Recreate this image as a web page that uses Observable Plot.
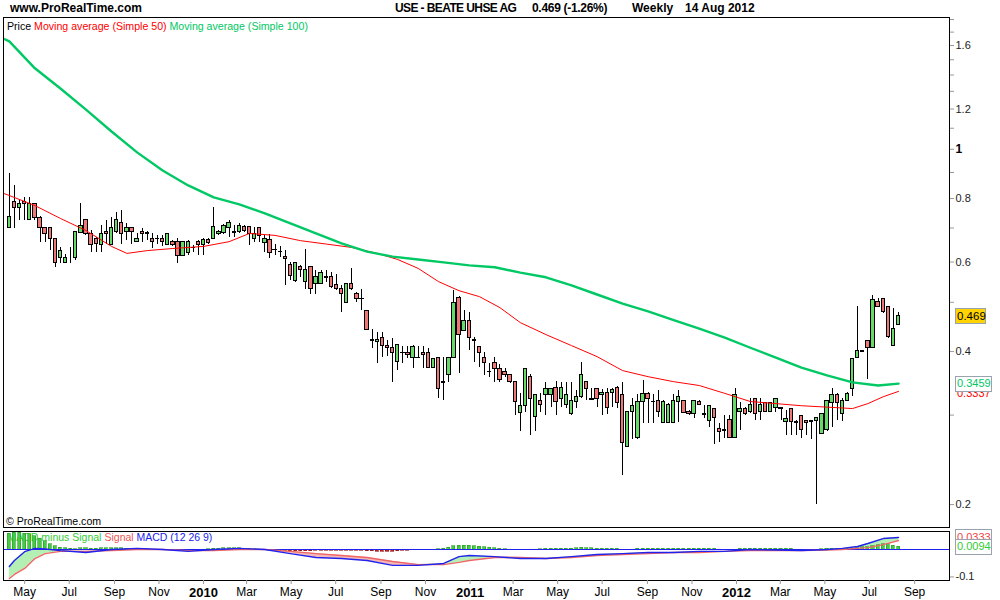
<!DOCTYPE html>
<html><head><meta charset="utf-8">
<script src="https://cdn.jsdelivr.net/npm/d3@7"></script>
<script src="https://cdn.jsdelivr.net/npm/@observablehq/plot@0.6"></script>
<style>
body{margin:0;background:#fff;font-family:Arial,"Liberation Sans",sans-serif;}
#wrap{position:relative;width:1000px;height:600px;overflow:hidden;background:#fff;}
#wrap svg{position:absolute;left:0;}
.h{position:absolute;white-space:pre;font-size:12px;font-weight:bold;line-height:14px;top:1px;color:#000;z-index:2}
.lg{position:absolute;white-space:pre;font-size:10.6px;line-height:13px;z-index:2}
</style></head><body><div id="wrap">
<div class="h" style="left:10px">www.ProRealTime.com</div>
<div class="h" style="left:395px;letter-spacing:-0.6px">USE - BEATE UHSE AG</div>
<div class="h" style="left:532px;letter-spacing:-0.3px">0.469 (-1.26%)</div>
<div class="h" style="left:632px">Weekly</div>
<div class="h" style="left:685px">14 Aug 2012</div>
<div class="lg" style="left:7px;top:20px"><span style="color:#000">Price </span><span style="color:#ff0000">Moving average (Simple 50) </span><span style="color:#00c864">Moving average (Simple 100)</span></div>
<div class="lg" style="left:6px;top:515px;color:#000">© ProRealTime.com</div>
</div>
<script>
// ---- data ----
const firstWeek = "2009-04-10";
const open = [
.699,.786,.768,.786,.727,.779,.734,.699,.699,.667,
.610,.598,.605,.610,.683,.727,.680,.667,.648,.689,
.648,.689,.717,.686,.699,.658,.689,.683,.667,.667,
.667,.648,.658,.658,.618,.624,.639,.658,.648,.664,
.667,.680,.683,.699,.686,.689,.702,.702,.667,.699,
.655,.664,.635,.629,.613,.591,.550,.588,.547,.588,
.544,.544,.560,.560,.540,.530,.499,.544,.519,.508,
.480,.421,.417,.425,.410,.406,.381,.398,.398,.389,
.389,.398,.398,.372,.389,.348,.360,.389,.511,.440,
.459,.421,.408,.389,.365,.379,.369,.364,.360,.349,
.303,.312,.356,.297,.320,.329,.329,.339,.323,.314,
.301,.319,.326,.348,.322,.337,.329,.332,.332,.339,
.329,.260,.304,.270,.319,.330,.319,.320,.290,.290,
.290,.319,.320,.304,.301,.319,.301,.292,.309,.282,
.280,.293,.271,.304,.309,.304,.323,.304,.317,.304,
.310,.310,.291,.309,.291,.299,.292,.292,.292,.275,
.280,.317,.329,.301,.320,.338,.389,.401,.419,.406,
.500,.508,.489,.411,.451];
const high = [
.896,.849,.793,.804,.804,.782,.737,.699,.702,.667,
.642,.620,.640,.689,.782,.727,.692,.670,.708,.724,
.734,.751,.758,.714,.699,.683,.699,.689,.683,.677,
.677,.680,.661,.667,.658,.661,.648,.661,.667,.667,
.768,.692,.711,.724,.708,.714,.708,.702,.702,.699,
.677,.680,.651,.645,.632,.598,.598,.591,.635,.588,
.578,.578,.578,.572,.567,.540,.544,.583,.522,.530,
.480,.442,.436,.436,.421,.425,.413,.410,.410,.411,
.410,.410,.406,.387,.389,.389,.389,.527,.513,.482,
.478,.427,.408,.398,.379,.389,.377,.370,.360,.349,
.331,.370,.360,.329,.331,.348,.339,.349,.348,.348,
.348,.335,.381,.349,.339,.339,.337,.339,.339,.341,
.348,.304,.324,.329,.351,.332,.330,.336,.320,.316,
.330,.335,.321,.306,.320,.320,.314,.314,.309,.289,
.299,.299,.339,.317,.310,.323,.323,.323,.318,.318,
.324,.311,.306,.309,.293,.300,.293,.293,.297,.302,
.320,.339,.331,.323,.332,.387,.491,.402,.421,.516,
.508,.508,.489,.487,.478];
const low = [
.697,.699,.724,.724,.724,.724,.655,.655,.632,.586,
.596,.596,.596,.604,.683,.677,.626,.626,.626,.651,
.648,.683,.651,.661,.651,.655,.655,.661,.638,.651,
.645,.648,.645,.596,.615,.618,.626,.618,.618,.651,
.667,.677,.680,.670,.670,.683,.686,.648,.655,.655,
.626,.610,.618,.613,.540,.552,.547,.560,.530,.519,
.519,.541,.547,.533,.527,.477,.497,.527,.499,.482,
.442,.406,.379,.389,.391,.348,.367,.379,.387,.370,
.387,.370,.370,.370,.323,.320,.348,.389,.362,.438,
.402,.381,.372,.359,.356,.348,.348,.356,.346,.300,
.279,.303,.274,.279,.303,.300,.310,.300,.310,.309,
.300,.309,.324,.320,.320,.310,.300,.301,.310,.309,
.228,.259,.268,.269,.289,.289,.289,.297,.289,.289,
.289,.290,.302,.300,.296,.313,.296,.284,.262,.265,
.270,.270,.270,.280,.300,.302,.293,.293,.303,.303,
.303,.293,.274,.274,.274,.270,.274,.268,.200,.275,
.279,.283,.293,.291,.319,.327,.388,.399,.352,.405,
.488,.476,.425,.409,.450];
const close = [
.737,.768,.779,.779,.779,.734,.699,.680,.667,.598,
.631,.610,.605,.689,.708,.680,.648,.651,.680,.680,
.699,.727,.680,.699,.689,.667,.680,.682,.658,.666,
.658,.680,.648,.618,.658,.658,.638,.648,.664,.655,
.702,.689,.708,.717,.685,.705,.692,.680,.680,.674,
.667,.626,.634,.628,.607,.562,.598,.580,.578,.530,
.560,.572,.559,.535,.530,.519,.544,.530,.508,.507,
.442,.420,.421,.410,.406,.398,.413,.397,.394,.408,
.388,.394,.372,.387,.338,.347,.389,.499,.431,.459,
.425,.420,.398,.379,.364,.370,.351,.360,.348,.319,
.312,.369,.323,.329,.314,.337,.337,.319,.339,.329,
.320,.326,.360,.338,.321,.323,.332,.310,.336,.317,
.264,.304,.312,.319,.330,.323,.318,.304,.319,.314,
.320,.326,.303,.301,.320,.314,.300,.312,.296,.278,
.279,.271,.329,.309,.301,.314,.302,.314,.304,.317,
.323,.309,.295,.291,.290,.280,.289,.291,.296,.301,
.320,.329,.317,.320,.330,.386,.401,.400,.406,.506,
.489,.478,.427,.444,.469];

const ma100Week = [-1,0,5,10,15,20,25,30,35,40,45,50,55,60,65,70,75,80,85,90,95,100,105,110,115,120,125,130,135,140,145,150,155,160,165,170,174];
const ma100Val = [1.648,1.63,1.443,1.317,1.197,1.084,0.986,0.908,0.849,0.804,0.779,0.748,0.715,0.683,0.653,0.629,0.615,0.607,0.599,0.591,0.586,0.572,0.560,0.540,0.518,0.497,0.480,0.461,0.444,0.426,0.407,0.389,0.372,0.359,0.348,0.343,0.346];
const ma50Week = [-1,0,5,10,15,20,23,27,32,38,43,47,52,57,62,67,72,76,80,84,88,92,96,100,105,110,115,120,125,130,135,140,145,150,155,160,165,168,171,174];
const ma50Val = [0.818,0.811,0.775,0.731,0.692,0.644,0.624,0.632,0.638,0.644,0.658,0.683,0.677,0.661,0.651,0.641,0.624,0.607,0.583,0.549,0.527,0.513,0.488,0.456,0.432,0.411,0.391,0.367,0.357,0.349,0.343,0.331,0.319,0.316,0.313,0.311,0.309,0.316,0.326,0.334];

const macdWeek = [0,1,3,5,7,10,15,20,25,30,35,40,45,50,55,60,65,70,75,80,85,88,90,95,100,105,110,115,120,125,130,135,140,145,150,155,160,163,166,168,171,174];
const macdVal = [-0.062,-0.040,-0.008,0.004,0.002,-0.004,-0.011,0,0.004,0,-0.007,0,0.004,0,-0.015,-0.029,-0.033,-0.040,-0.058,-0.058,-0.051,-0.026,-0.022,-0.026,-0.033,-0.033,-0.026,-0.018,-0.015,-0.011,-0.011,-0.007,-0.007,0,-0.002,-0.004,0,0.004,0.011,0.022,0.040,0.044];
const signalVal = [-0.106,-0.091,-0.069,-0.033,-0.015,-0.007,-0.007,-0.004,0,0,-0.004,-0.004,0,0,-0.007,-0.015,-0.022,-0.029,-0.044,-0.055,-0.055,-0.047,-0.040,-0.029,-0.029,-0.033,-0.029,-0.022,-0.018,-0.015,-0.011,-0.011,-0.007,-0.004,-0.004,-0.004,-0.002,0,0.004,0.007,0.018,0.033];
const histVal = [
0.058,0.062,0.062,0.058,0.055,0.048,0.040,0.030,0.020,0.012,0.007,0.004,0.002,0.001,
0.004,0.004,0.003,0.003,0.004,0.004,0.005,0.005,0.004,0.003,0.002,0.001,0.001,0.001,
0,0,0,-0.001,
-0.002,-0.003,-0.003,-0.002,-0.003,-0.002,-0.001,
0.001,
0.003,0.003,0.004,0.004,0.004,0.004,0.003,0.002,0.001,
0,0,0,-0.001,
-0.002,-0.004,-0.006,-0.007,-0.007,-0.006,-0.006,-0.005,-0.005,-0.004,-0.004,-0.004,-0.004,-0.004,-0.004,-0.004,-0.005,-0.006,-0.007,-0.008,-0.008,-0.008,-0.008,-0.006,-0.005,-0.004,-0.002,
0,0,-0.001,0,0.001,0.002,
0.006,0.011,0.013,0.014,0.013,0.012,0.010,0.008,0.006,0.005,0.003,0.001,
0,-0.002,-0.002,-0.001,0,0,0.001,
0.002,0.003,0.003,0.003,0.003,0.003,0.004,0.006,0.005,0.004,0.003,0.003,0.003,0.003,0.002,
0,-0.001,0,
0.002,0.003,0.003,0.003,0.003,0.003,0.003,0.003,0.003,0.003,0.003,0.003,0.003,0.003,0.003,0.002,
-0.001,-0.001,-0.002,-0.001,
0.002,0.003,0.003,0.003,0.003,0.003,0.003,0.003,0.003,0.002,0.002,
-0.001,-0.001,-0.001,0,-0.001,
0.001,0.002,0.003,0.003,0.003,0.002,0.003,
0.005,0.008,0.008,0.012,0.016,0.020,0.020,0.014,0.0094];

const priceTicks = [0.2,0.4,0.6,0.8,1.2,1.6];
const priceTickBold = [1];
const priceMinor = [0.3,0.5,0.7,0.9,1.1,1.3,1.4,1.5,1.7,1.8];
const monthTicks = ["2009-05-01","2009-07-01","2009-09-01","2009-11-01","2010-03-01","2010-05-01","2010-07-01","2010-09-01","2010-11-01","2011-03-01","2011-05-01","2011-07-01","2011-09-01","2011-11-01","2012-03-01","2012-05-01","2012-07-01","2012-09-01"];
const yearTicks = ["2010-01-01","2011-01-01","2012-01-01"];
const lastPrice = 0.469, lastMA100 = 0.3459, lastMA50 = 0.3337;
const lastHist = 0.0094, lastSignal = 0.0333;

// ---- build ----
const parse = d3.utcParse("%Y-%m-%d");
const D0 = parse(firstWeek);
const wk = i => d3.utcDay.offset(D0, 7 * i);
const candles = open.map((o, i) => ({date: wk(i), open: o, high: high[i], low: low[i], close: close[i]}));
const ma100 = ma100Week.map((w, i) => ({date: wk(w), v: ma100Val[i]}));
const ma50 = ma50Week.map((w, i) => ({date: wk(w), v: ma50Val[i]}));
const macdRows = macdWeek.map((w, i) => ({date: wk(w), macd: macdVal[i], signal: signalVal[i]}));
const hist = histVal.map((v, i) => ({date: wk(i), v}));
const xDomain = [new Date("2009-04-02T00:00Z"), new Date("2012-10-18T19:00Z")];
const FONT = "Arial, 'Liberation Sans', sans-serif";
const GREEN = "#66d966", RED = "#ee7777";
const bx1 = d => d3.utcHour.offset(d.date, -55), bx2 = d => d3.utcHour.offset(d.date, 55);
const hx1 = d => d3.utcHour.offset(d.date, -50), hx2 = d => d3.utcHour.offset(d.date, 50);

const mainPlot = Plot.plot({
  width: 1000, height: 528, marginTop: 17, marginBottom: 1, marginLeft: 3, marginRight: 51,
  style: {background: "transparent", fontFamily: FONT, fontSize: "11px", color: "#222"},
  x: {type: "utc", domain: xDomain, axis: null, label: null},
  y: {type: "log", domain: [0.1803, 1.8164], axis: null, label: null},
  marks: [
    Plot.axisY(priceMinor, {anchor: "right", tickSize: 4, stroke: "#999", tickFormat: () => ""}),
    Plot.axisY(priceTicks, {anchor: "right", tickSize: 4, tickPadding: 2, stroke: "#999", fill: "#222", fontSize: 11, tickFormat: d => String(d)}),
    Plot.axisY(priceTickBold, {anchor: "right", tickSize: 4, tickPadding: 2, stroke: "#999", fill: "#000", fontSize: 12, fontWeight: "bold", tickFormat: d => String(d)}),
    Plot.ruleX(candles, {x: "date", y1: "low", y2: "high", stroke: "#000", shapeRendering: "crispEdges"}),
    Plot.rect(candles, {x1: bx1, x2: bx2, y1: "open", y2: "close", fill: d => d.close >= d.open ? GREEN : RED, stroke: "#000", strokeWidth: 1, shapeRendering: "crispEdges"}),
    Plot.line(ma50, {x: "date", y: "v", stroke: "#ff0000", strokeWidth: 1}),
    Plot.line(ma100, {x: "date", y: "v", stroke: "#00c864", strokeWidth: 2.4}),
    Plot.frame({stroke: "#000", shapeRendering: "crispEdges"})
  ]
});
mainPlot.style.top = "0px";

const macdPlot = Plot.plot({
  width: 1000, height: 72, marginTop: 3, marginBottom: 20, marginLeft: 3, marginRight: 51,
  style: {background: "transparent", fontFamily: FONT, fontSize: "12px", color: "#000"},
  x: {type: "utc", domain: xDomain, axis: null, label: null},
  y: {domain: [-0.1131, 0.0657], axis: null, label: null},
  marks: [
    Plot.text(["MACD minus Signal"], {frameAnchor: "top-left", dx: 4, dy: 2, fill: "#33cc33", fontSize: 10.5}),
    Plot.text(["Signal"], {frameAnchor: "top-left", dx: 101, dy: 2, fill: "#ee5555", fontSize: 10.5}),
    Plot.text(["MACD (12 26 9)"], {frameAnchor: "top-left", dx: 133, dy: 2, fill: "#2222ee", fontSize: 10.5}),
    Plot.areaY(macdRows, {x: "date", y1: "signal", y2: d => Math.max(d.macd, d.signal), fill: "#b4f0b4"}),
    Plot.areaY(macdRows, {x: "date", y1: "macd", y2: d => Math.max(d.macd, d.signal), fill: "#f5b8b8"}),
    Plot.rect(hist, {x1: hx1, x2: hx2, y1: 0, y2: "v", fill: d => d.v >= 0 ? "#44cc44" : "#bb2222", stroke: d => d.v >= 0 ? "#229922" : "#991111", strokeWidth: 0.6, shapeRendering: "crispEdges"}),
    Plot.ruleY([0], {stroke: "#2222ee", strokeWidth: 1.2}),
    Plot.line(macdRows, {x: "date", y: "signal", stroke: "#ee6666", strokeWidth: 1.4}),
    Plot.line(macdRows, {x: "date", y: "macd", stroke: "#2222ee", strokeWidth: 1.4}),
    Plot.frame({stroke: "#000", shapeRendering: "crispEdges"}),
    Plot.axisY([-0.1], {anchor: "right", tickSize: 4, tickPadding: 2, stroke: "#999", fill: "#222", fontSize: 11, tickFormat: d => String(d)}),
    Plot.axisX(monthTicks.map(parse), {anchor: "bottom", tickSize: 4, tickPadding: 3, stroke: "#999", fill: "#000", fontSize: 12, tickFormat: d3.utcFormat("%b")}),
    Plot.axisX(yearTicks.map(parse), {anchor: "bottom", tickSize: 4, tickPadding: 3, stroke: "#999", fill: "#000", fontSize: 13, fontWeight: "bold", tickFormat: d3.utcFormat("%Y")})
  ]
});
macdPlot.style.top = "528px";

const wrap = document.getElementById("wrap");
wrap.appendChild(mainPlot);
wrap.appendChild(macdPlot);

function valueLabel(svg, yPix, text, opts) {
  const g = d3.select(svg).append("g").attr("font-family", FONT).attr("font-size", opts.size || 11).attr("text-anchor", "start");
  if (opts.box) {
    g.append("rect").attr("x", opts.x - 1.5).attr("y", Math.round(yPix - 7.5) + 0.5)
      .attr("width", opts.w).attr("height", 15).attr("fill", opts.bg).attr("stroke", "#9aa3ad");
  }
  g.append("text").attr("x", opts.x).attr("y", yPix).attr("dy", "0.36em")
    .attr("fill", opts.color).text(text);
}
const yMain = v => mainPlot.scale("y").apply(v);
const yMacd = v => macdPlot.scale("y").apply(v);
valueLabel(mainPlot, yMain(lastMA50) + 2, String(lastMA50), {x: 957, color: "#ff0000"});
valueLabel(mainPlot, yMain(lastMA100), String(lastMA100), {x: 957, color: "#00c864", box: true, bg: "#fff", w: 36});
valueLabel(mainPlot, yMain(lastPrice), String(lastPrice), {x: 957, color: "#000", box: true, bg: "#ffd400", w: 30, size: 11.5});
valueLabel(macdPlot, yMacd(lastSignal) - 3, String(lastSignal), {x: 957, color: "#ee4444", box: true, bg: "#fff", w: 36});
valueLabel(macdPlot, yMacd(lastHist), String(lastHist), {x: 957, color: "#33cc33", box: true, bg: "#fff", w: 36});
</script>
</body></html>
